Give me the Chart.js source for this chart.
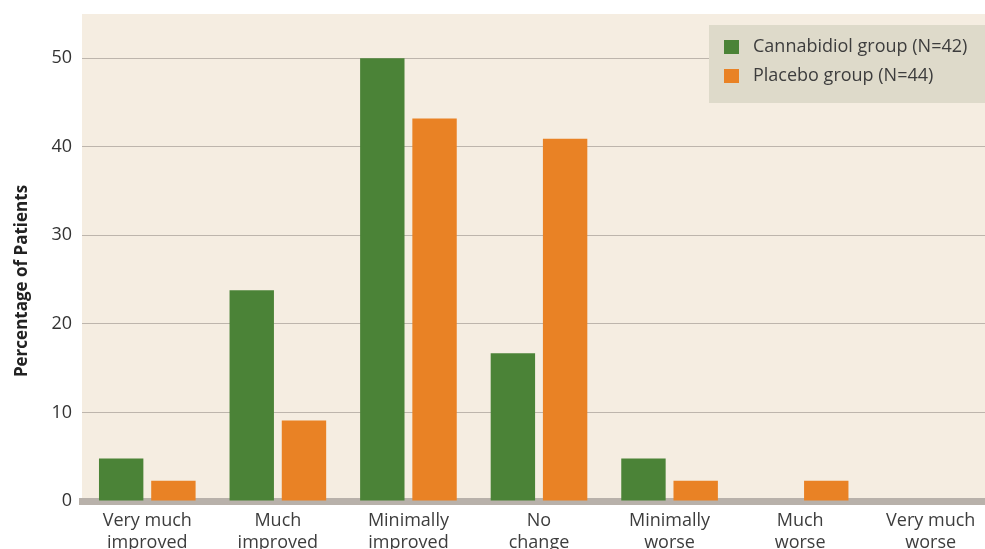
<!DOCTYPE html>
<html>
<head>
<meta charset="utf-8">
<script src="https://cdn.jsdelivr.net/npm/chart.js@4/dist/chart.umd.min.js"></script>
<style>
  html, body { margin: 0; padding: 0; background: #fff; overflow: hidden; }
  #wrap { position: relative; width: 996px; height: 560px; }
</style>
</head>
<body>
<div id="wrap"><canvas id="myChart"></canvas></div>
<script>
const categories = [
  ['Very much', 'improved'], ['Much', 'improved'], ['Minimally', 'improved'],
  ['No', 'change'], ['Minimally', 'worse'], ['Much', 'worse'], ['Very much', 'worse'],
];
const cannabidiol = [4.8, 23.8, 50.0, 16.7, 4.8, 0, 0];
const placebo = [2.3, 9.1, 43.2, 40.9, 2.3, 2.3, 0];
const yTicks = [0, 10, 20, 30, 40, 50];
const yTitle = 'Percentage of Patients';

const GREEN = '#4B8337';
const ORANGE = '#E98225';
const FONT = '"Open Sans", sans-serif';

// beige plot panel behind the bars
const plotBackground = {
  id: 'plotBackground',
  beforeDraw(chart) {
    const { ctx, chartArea: a } = chart;
    ctx.save();
    ctx.fillStyle = '#F5EDE1';
    ctx.fillRect(a.left, a.top, a.right - a.left, a.bottom - a.top);
    ctx.restore();
  },
};

// y title sits a bit below the panel middle in the original
const sideTitle = {
  id: 'sideTitle',
  afterDraw(chart) {
    const { ctx } = chart;
    ctx.save();
    ctx.translate(22, 281);
    ctx.rotate(-Math.PI / 2);
    ctx.font = 'bold 17px ' + FONT;
    ctx.fillStyle = '#222';
    ctx.textAlign = 'center';
    ctx.textBaseline = 'middle';
    ctx.fillText(yTitle, 0, 0);
    ctx.restore();
  },
};

const boxLegend = {
  id: 'boxLegend',
  afterDraw(chart) {
    const { ctx, chartArea: a } = chart;
    const x = 709, y = 25, h = 78;
    ctx.save();
    ctx.fillStyle = '#DEDACA';
    ctx.fillRect(x, y, a.right - x, h);
    ctx.font = '18px ' + FONT;
    ctx.textBaseline = 'middle';
    chart.data.datasets.forEach((ds, i) => {
      const cy = y + 22 + i * 29;
      ctx.fillStyle = ds.backgroundColor;
      ctx.fillRect(x + 15, cy - 7, 15, 14);
      ctx.fillStyle = '#3d3d3d';
      ctx.fillText(ds.label, x + 44, cy);
    });
    ctx.restore();
  },
};

const ctx = document.getElementById('myChart');

const myChart = new Chart(ctx, {
  type: 'bar',
  data: {
    labels: categories,
    datasets: [
      { label: 'Cannabidiol group (N=42)', data: cannabidiol, backgroundColor: GREEN },
      { label: 'Placebo group (N=44)', data: placebo, backgroundColor: ORANGE },
    ],
  },
  options: {
    responsive: true,
    maintainAspectRatio: false,
    animation: false,
    layout: { padding: { top: 14, right: 0, left: 0, bottom: 0 } },
    datasets: {
      bar: { categoryPercentage: 0.8, barPercentage: 0.85 },
    },
    scales: {
      x: {
        grid: { display: false },
        border: { display: true, color: '#B8B1AA', width: 7 },
        ticks: {
          color: '#3d3d3d',
          font: { family: FONT, size: 18, lineHeight: 1.22 },
          padding: 1,
          maxRotation: 0,
        },
        afterFit(scale) { scale.height = 59; },
      },
      y: {
        min: 0,
        max: 55,
        grid: {
          color: (c) => (c.tick && c.tick.value === 0 ? 'rgba(0,0,0,0)' : '#BDB5AC'),
          lineWidth: 1,
          drawTicks: false,
        },
        border: { display: false },
        ticks: {
          stepSize: 10,
          includeBounds: false,
          color: '#333',
          padding: 10,
          font: { family: FONT, size: 18 },
          callback: (v) => (yTicks.includes(v) ? v : ''),
        },
        afterFit(scale) {
          scale.width = 82;
          scale.paddingTop = 0;
          scale.paddingBottom = 0;
        },
      },
    },
    plugins: {
      legend: { display: false },
      tooltip: { enabled: false },
    },
  },
  plugins: [plotBackground, sideTitle, boxLegend],
});
</script>
</body>
</html>
